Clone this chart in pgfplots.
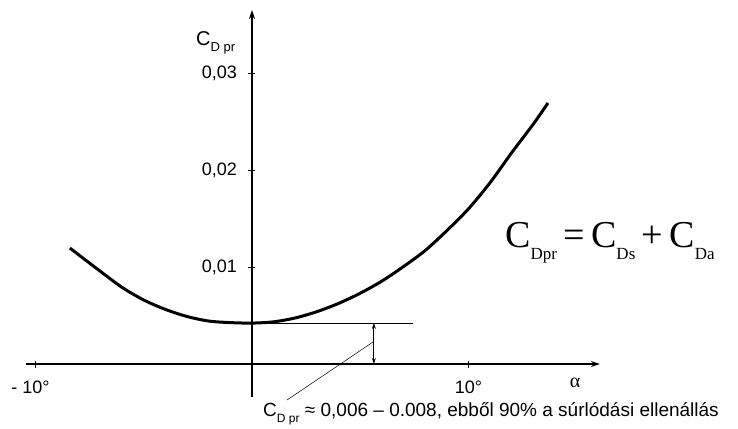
\documentclass[border=0pt]{standalone}
\usepackage{fontspec}
\setmainfont{Liberation Sans}
\newfontfamily\timesf{Liberation Serif}
\usepackage{pgfplots}
\pgfplotsset{compat=1.18}
\usetikzlibrary{arrows.meta}

\newcommand{\fs}[1]{\fontsize{#1}{#1}\selectfont}
\newcommand{\bigsub}[1]{\raisebox{-12pt}{\fs{17}#1}}
\newcommand{\smallsub}[2]{\raisebox{-6pt}{\fs{#1}#2}}

\begin{document}
\begin{tikzpicture}
\begin{axis}[
    scale only axis,
    width=573.9pt, height=387pt,
    xmin=-10.44, xmax=16.07,
    ymin=-0.0034, ymax=0.0365,
    axis lines=middle,
    axis line style={line width=2pt, -{Stealth[length=9pt, width=6pt]}},
    xtick={-10,10},
    xticklabels={\hspace*{-10pt}- 10°, 10°},
    ytick={0.01,0.02,0.03},
    yticklabels={{0,01},{0,02},{0,03}},
    tick align=center,
    major tick length=7pt,
    tick style={line width=0.8pt, black},
    ticklabel style={font=\fs{18}},
    xticklabel style={yshift=-10pt},
    yticklabel style={xshift=-8pt},
    clip=false,
]
% C_D pr vs alpha
\addplot[line width=3pt, smooth, black] coordinates {
    (-8.41,0.01196) (-8,0.01125) (-7,0.00955) (-6,0.00790) (-5,0.00660)
    (-4,0.00563) (-3,0.00490) (-2,0.00443) (-1,0.00427) (0,0.00422)
    (1,0.00435) (2,0.00475) (3,0.00540) (4,0.00625) (5,0.00730)
    (6,0.00855) (7,0.01005) (8,0.01170) (9,0.01375) (10,0.01600)
    (11,0.01870) (12,0.02180) (13,0.02475) (13.67,0.02691)
};

% annotation lines
\draw[line width=0.7pt] (axis cs:0,0.00423) -- (axis cs:7.44,0.00423);
\draw[line width=0.9pt, {Stealth[length=6pt,width=4pt]}-{Stealth[length=6pt,width=4pt]}]
    (axis cs:5.63,0.00423) -- (axis cs:5.63,0);
\draw[line width=0.5pt] (axis cs:5.59,0.00227) -- (axis cs:1.62,-0.00371);

% labels
\node[anchor=base west, inner sep=0pt] at (axis cs:-2.59,0.03289)
    {\fs{20}C\smallsub{13}{D pr}};
\node[inner sep=0pt] at (axis cs:14.92,-0.00196) {\timesf\fs{20}α};
\node[anchor=base west, inner sep=0pt] at (axis cs:11.69,0.01206)
    {\timesf\fs{38}C\bigsub{Dpr}\,=\,C\bigsub{Ds}\,+\,C\bigsub{Da}};
\node[anchor=base west, inner sep=0pt] at (axis cs:0.51,-0.00546)
    {\fs{19}C\smallsub{12}{D pr} ≈ 0,006 – 0.008, ebből 90\% a súrlódási ellenállás};

\coordinate (tl) at (axis cs:-11.64,0.03753);
\coordinate (br) at (axis cs:22.45,-0.0066);
\end{axis}
\pgfresetboundingbox
\useasboundingbox (tl) rectangle (br);
\end{tikzpicture}
\end{document}
